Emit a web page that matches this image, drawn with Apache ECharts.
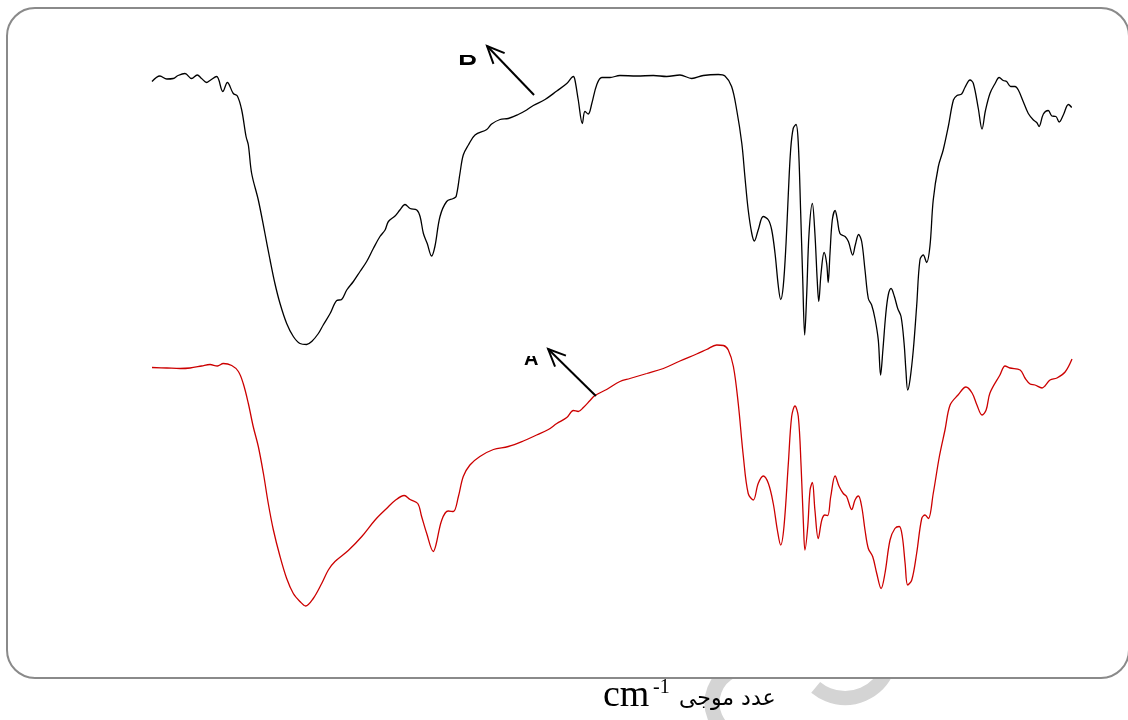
<!DOCTYPE html>
<html>
<head>
<meta charset="utf-8">
<script src="https://cdn.jsdelivr.net/npm/echarts@6/dist/echarts.min.js"></script>
<style>
  html, body { margin: 0; padding: 0; background: #fff; }
  #chart { width: 1128px; height: 720px; }
</style>
</head>
<body>
<div id="chart"></div>
<script>
// FT-IR spectra, wavenumber (cm-1) vs. transmittance (offset for stacking)
const wavenumberB = [4000,3969,3942,3917,3898,3871,3845,3823,3806,3786,3773,3747,3723,3705,3682,3666,3649,3632,3623,3610,3584,3558,3538,3519,3499,3473,3447,3421,3395,3375,3349,3330,3303,3277,3258,3238,3212,3186,3160,3134,3108,3088,3075,3049,3030,3010,2990,2964,2951,2938,2923,2906,2893,2873,2847,2821,2810,2795,2782,2762,2736,2690,2671,2638,2606,2567,2534,2508,2462,2416,2377,2351,2345,2332,2316,2306,2293,2279,2260,2240,2208,2169,2103,2038,1986,1934,1888,1843,1784,1758,1732,1712,1692,1680,1667,1653,1643,1628,1608,1588,1575,1562,1549,1540,1530,1519,1510,1501,1491,1480,1471,1462,1454,1446,1438,1429,1416,1406,1397,1391,1382,1370,1360,1354,1347,1338,1327,1318,1308,1288,1275,1258,1248,1235,1223,1210,1197,1184,1171,1158,1149,1140,1129,1119,1108,1095,1082,1069,1057,1050,1043,1034,1021,1008,995,982,969,956,943,923,904,884,864,850,832,819,799,786,767,752,739,721,701,685,669,656,640,623,610,591,571,551,538,529,512,493,479,463,450,434,414,401];
const transmittanceB = [111.7,112.8,112.2,112.3,112.9,113.3,112.3,113,112.3,111.5,111.9,112.7,109.7,111.5,109.3,108.8,106,100.7,99,93.3,88,81.3,76,71.3,67.3,63.3,60.7,59.3,59.1,59.7,61.3,63,65.3,67.9,68.1,70,71.7,73.7,75.7,78.3,80.7,82,83.7,84.8,86,87.1,86.3,86,84.7,81.3,79.3,76.8,78.7,84.7,87.7,88.3,88.7,93.3,97,99,101,102.1,103.2,104.1,104.3,105.1,106,106.9,108.1,109.8,111.3,112.7,112,108,103.3,105.7,105.2,107.3,111,112.5,112.5,112.9,112.8,112.9,112.7,113,112.3,112.9,113.1,112.8,110.7,106,99.3,92.7,86,81.3,79.8,82,84.7,84,82,77.3,70.7,68.1,70.7,79.3,89.3,98,102.3,103.1,99.3,86,72.7,61,69.3,81.3,87.3,81.3,72,67.7,73.3,77.5,75.3,71.5,77.3,84,85.9,84,81.3,80.7,79.7,77,79,81.1,79.7,74,68.3,67,64.3,60,53,58,65,69,70.3,68.7,66.3,64.7,59.3,54,50,52,58,66.7,76,77,75.5,78.7,88,94.7,98,102.7,108,108.9,109.2,110.5,112,111.3,106.4,102.2,105.8,109.3,111.3,112.5,111.9,111.7,110.7,110.7,110,107.7,105.3,104,103.5,102.7,105.2,105.9,104.8,104.7,103.6,105,107.1,106.5];

const wavenumberA = [4000,3942,3890,3851,3806,3773,3744,3721,3688,3662,3643,3623,3604,3584,3564,3545,3525,3499,3473,3447,3421,3399,3369,3336,3310,3284,3232,3179,3127,3082,3049,3013,2990,2960,2945,2925,2899,2889,2866,2841,2821,2801,2782,2756,2717,2664,2606,2547,2495,2449,2416,2377,2351,2332,2312,2286,2267,2221,2169,2130,2064,1999,1934,1869,1830,1790,1764,1745,1725,1706,1686,1667,1647,1628,1608,1588,1569,1553,1540,1527,1510,1497,1484,1471,1460,1451,1445,1434,1425,1416,1406,1393,1379,1367,1356,1344,1327,1311,1295,1282,1262,1249,1236,1223,1210,1197,1180,1164,1147,1132,1112,1093,1076,1064,1053,1043,1027,1008,988,975,962,943,919,897,877,846,815,791,772,752,736,721,682,662,643,603,584,564,545,517,506,486,459,427,400];
const transmittanceA = [54.5,54.4,54.3,54.4,54.8,55.1,54.8,55.3,54.9,53.7,51.3,47.3,42.7,38.7,33.3,27.3,22,16.7,12.3,9.3,7.7,6.8,8.3,11.3,14,15.7,17.9,20.7,24,26.3,27.9,28.9,28.1,27.3,24.7,21.3,17.7,19,24,25.8,25.7,28.7,32.7,35,36.7,38.1,38.7,39.8,41,42.1,43.3,44.5,45.9,45.7,46.5,47.9,48.9,50.1,51.7,52.3,53.3,54.3,55.8,57.2,58.1,59,58.9,58,54.7,47.3,36.7,29.3,28,31.3,32.8,31.3,27.3,22,19,22.7,35.3,44.7,46.8,44.7,34.7,23.3,18,22.7,30,31.5,26,20.3,24,25,24.9,28.7,32.8,30.7,29.3,28.7,26.1,28,28.8,26.7,22,18.3,16.7,13.3,10.3,13.3,20,22.3,22.7,20.7,15.3,11,12,17.3,24.3,25,24.3,29.3,36.7,42,47,49,50.6,49.4,47,45,46,49.4,53,54.8,54.4,54,52.4,51.2,51,50.4,50.8,52,52.4,53.6,56.2];

// annotation arrows: [tail, head] in data coordinates, with their labels
const arrowB = [[2505, 109], [2689, 118.8]];
const arrowA = [[2263, 48.8], [2450, 58.2]];
const labelB = 'B';
const labelA = 'A';
const axisTitleUnit = 'cm';
const axisTitleExp = '-1';
const axisTitleWord = 'عدد موجی';

function pairs(xs, ys) { return xs.map((x, i) => [x, ys[i]]); }

const chart = echarts.init(document.getElementById('chart'), null, { renderer: 'canvas' });

const option = {
  animation: false,
  backgroundColor: '#ffffff',
  grid: { left: 152, right: 56, top: 40, bottom: 80 },
  xAxis: { type: 'value', min: 400, max: 4000, inverse: true, show: false },
  yAxis: { type: 'value', min: 0, max: 120, show: false },
  series: [
    {
      name: 'B', type: 'line', data: pairs(wavenumberB, transmittanceB),
      showSymbol: false, smooth: 0.35,
      lineStyle: { color: '#000000', width: 1.3 }, z: 3
    },
    {
      name: 'A', type: 'line', data: pairs(wavenumberA, transmittanceA),
      showSymbol: false, smooth: 0.35,
      lineStyle: { color: '#cc0000', width: 1.3 }, z: 3
    }
  ]
};
chart.setOption(option);

// arrow with an open head, from tail to head
function arrowGraphics(seg) {
  const t = chart.convertToPixel({ gridIndex: 0 }, seg[0]);
  const h = chart.convertToPixel({ gridIndex: 0 }, seg[1]);
  const ang = Math.atan2(t[1] - h[1], t[0] - h[0]);
  const len = 19, spread = 0.42;
  const w1 = [h[0] + len * Math.cos(ang + spread), h[1] + len * Math.sin(ang + spread)];
  const w2 = [h[0] + len * Math.cos(ang - spread), h[1] + len * Math.sin(ang - spread)];
  const style = { stroke: '#000', lineWidth: 2, fill: null };
  return [
    { type: 'line', shape: { x1: t[0], y1: t[1], x2: h[0], y2: h[1] }, style, z: 10 },
    { type: 'polyline', shape: { points: [w1, h, w2] }, style, z: 10 }
  ];
}

// label left of the arrow head; only its lower part shows below a white mask
function maskedLabel(text, seg, dx, dy, size, visibleH) {
  const h = chart.convertToPixel({ gridIndex: 0 }, seg[1]);
  const x = h[0] + dx, baseline = h[1] + dy;
  return [
    { type: 'text', x: x, y: baseline + size * 0.21, z: 9,
      style: { text: text, font: 'bold ' + size + 'px "Liberation Sans", Arial, sans-serif',
               fill: '#000', textAlign: 'center', textVerticalAlign: 'bottom' } },
    { type: 'rect', shape: { x: x - size, y: baseline - size * 1.3, width: size * 2, height: size * 1.3 - visibleH },
      style: { fill: '#ffffff' }, z: 9.5 }
  ];
}

const graphics = [
  // faint marks below the frame (hidden inside it by the frame's white fill)
  { type: 'arc', shape: { cx: 748, cy: 703, r: 36, startAngle: Math.PI * 0.62, endAngle: Math.PI * 1.35, clockwise: true },
    style: { stroke: '#d4d4d4', lineWidth: 15, fill: null }, z: 0 },
  { type: 'arc', shape: { cx: 845, cy: 652, r: 46, startAngle: Math.PI * 0.12, endAngle: Math.PI * 0.72, clockwise: true },
    style: { stroke: '#d4d4d4', lineWidth: 14, fill: null }, z: 0 },
  // rounded frame
  { type: 'rect', shape: { x: 7, y: 8, width: 1122, height: 670, r: 28 },
    style: { fill: '#ffffff', stroke: '#8a8a8a', lineWidth: 2 }, z: 1 },
  // axis title
  { type: 'text', x: 603, y: 715, z: 10,
    style: { text: axisTitleUnit, font: '38px "Liberation Serif", "Times New Roman", serif', fill: '#000', textVerticalAlign: 'bottom' } },
  { type: 'text', x: 653, y: 698, z: 10,
    style: { text: axisTitleExp, font: '20px "Liberation Serif", "Times New Roman", serif', fill: '#000', textVerticalAlign: 'bottom' } },
  { type: 'text', x: 679, y: 710, z: 10,
    style: { text: axisTitleWord, font: '22px "DejaVu Sans", sans-serif', fill: '#000', textVerticalAlign: 'bottom' } }
]
  .concat(arrowGraphics(arrowB))
  .concat(arrowGraphics(arrowA))
  .concat(maskedLabel(labelB, arrowB, -19.5, 19, 26, 10))
  .concat(maskedLabel(labelA, arrowA, -17, 16, 20, 9));

chart.setOption({ graphic: graphics });
</script>
</body>
</html>
